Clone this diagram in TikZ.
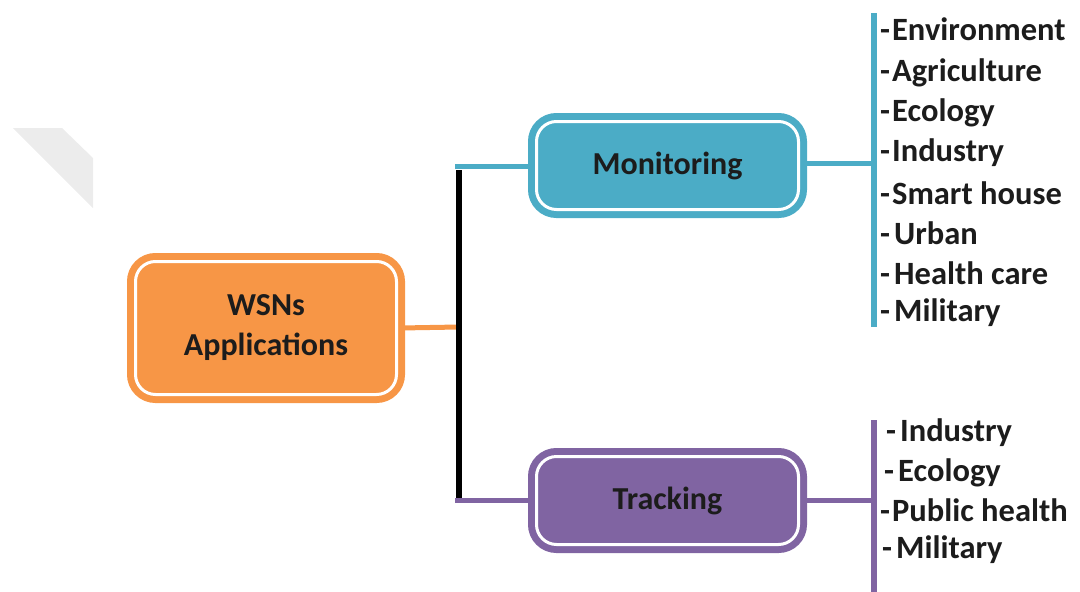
\documentclass[tikz,border=0pt]{standalone}
\usepackage{fontspec}
\setmainfont{Carlito}
\definecolor{wsnorange}{HTML}{F79646}
\definecolor{monteal}{HTML}{4BACC6}
\definecolor{trkpurple}{HTML}{8064A2}
\definecolor{txtdark}{HTML}{1C1C1C}
\definecolor{faintgray}{HTML}{ECECEC}
\tikzset{
  catbox/.style={rounded corners=20pt, line width=7pt, double=white,
    double distance=3pt, draw=#1, fill=#1, text=txtdark,
    font=\fontsize{32}{40}\selectfont\bfseries, align=center, inner sep=0pt},
  itemtext/.style={anchor=west, inner sep=0pt, text=txtdark,
    font=\fontsize{32.5}{36}\selectfont\bfseries},
  link/.style={line width=5pt, draw=#1}
}
\begin{document}
\begin{tikzpicture}[x=1pt, y=-1pt]
\useasboundingbox (0,0) rectangle (1080,592);
% faint grey corner shape at the left edge
\fill[faintgray] (13,128) -- (62,128) -- (93,158) -- (93,208) -- cycle;

% category boxes
\node[catbox=wsnorange, minimum width=261pt, minimum height=133pt] (wsn) at (266,328) {WSNs\\Applications};
\node[catbox=monteal, minimum width=262pt, minimum height=88pt] (mon) at (667.5,165.5) {Monitoring};
\node[catbox=trkpurple, minimum width=262pt, minimum height=88pt] (trk) at (667.5,500.5) {Tracking};

% trunk joining the root to both branches
\coordinate (trunkmid) at (459,327);
\coordinate (trunktop) at (459,170);
\coordinate (trunkbot) at (459,500);
\coordinate (montap) at (455,166);
\coordinate (trktap) at (455,500);
\draw[link=wsnorange] (wsn.east) -- (trunkmid);
\draw[line width=6pt, black] (trunktop) -- (trunkbot);
\draw[link=monteal] (montap) -- (mon.west |- montap);
\draw[link=trkpurple] (trktap) -- (trk.west |- trktap);

% brackets on the right
\coordinate (monbartop) at (874,13);
\coordinate (monbarbot) at (874,327);
\coordinate (monbarmid) at (874,163);
\coordinate (trkbartop) at (874,420);
\coordinate (trkbarbot) at (874,592);
\coordinate (trkbarmid) at (874,500);
\draw[link=monteal, line width=6pt] (monbartop) -- (monbarbot);
\draw[link=monteal] (mon.east |- monbarmid) -- (monbarmid);
\draw[link=trkpurple, line width=6pt] (trkbartop) -- (trkbarbot);
\draw[link=trkpurple] (trk.east |- trkbarmid) -- (trkbarmid);

% monitoring applications
\node[itemtext] (m1) at (880,29) {-\kern2pt Environment};
\node[itemtext] (m2) at (880,73) {-\kern2pt Agriculture};
\node[itemtext] (m3) at (880,113) {-\kern2pt Ecology};
\node[itemtext] (m4) at (880,153) {-\kern2pt Industry};
\node[itemtext] (m5) at (880,193) {-\kern2pt Smart house};
\node[itemtext] (m6) at (880,233) {-\kern4pt Urban};
\node[itemtext] (m7) at (880,273) {-\kern4pt Health care};
\node[itemtext] (m8) at (880,313) {-\kern4pt Military};

% tracking applications
\node[itemtext] (t1) at (886,433) {-\kern4pt Industry};
\node[itemtext] (t2) at (884,473) {-\kern4pt Ecology};
\node[itemtext] (t3) at (880,510) {-\kern2pt Public health};
\node[itemtext] (t4) at (882,550) {-\kern4pt Military};
\end{tikzpicture}
\end{document}
